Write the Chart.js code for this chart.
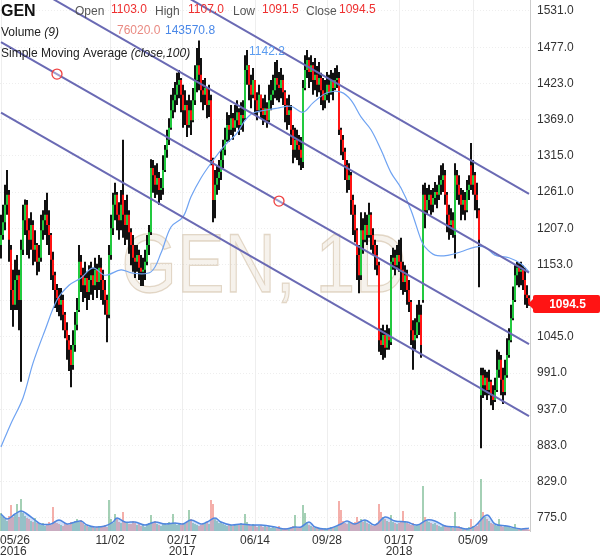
<!DOCTYPE html>
<html>
<head>
<meta charset="utf-8">
<script src="https://cdn.jsdelivr.net/npm/chart.js@4.4.1/dist/chart.umd.min.js"></script>
<style>
  html, body { margin: 0; padding: 0; background: #fff; }
  canvas { display: block; }
</style>
</head>
<body>
<canvas id="myChart" width="600" height="558"></canvas>
<script>
// GEN daily, one bar here = two sessions
const symbol = 'GEN';
const interval = '1D';

const opens = [
1182,1197,1216,1242,1257,1175,1115,1093,1130,1137,
1100,1175,1219,1242,1204,1190,1212,1175,1182,1157,
1163,1204,1219,1227,1212,1197,1160,1137,1115,1103,
1093,1100,1078,1055,1040,1026,1003,1033,1063,1085,
1157,1137,1122,1133,1112,1130,1137,1122,1145,1127,
1148,1130,1115,1100,1078,1167,1207,1242,1257,1227,
1219,1257,1227,1212,1227,1201,1182,1163,1157,1167,
1148,1142,1145,1157,1182,1201,1297,1286,1272,1282,
1264,1267,1294,1324,1339,1357,1383,1398,1406,1421,
1428,1406,1383,1391,1361,1383,1368,1398,1428,1450,
1436,1413,1406,1416,1391,1398,1309,1249,1272,1282,
1291,1309,1324,1339,1361,1354,1371,1357,1368,1380,
1361,1376,1371,1443,1450,1421,1406,1428,1398,1383,
1406,1386,1376,1386,1368,1398,1406,1413,1431,1421,
1416,1428,1410,1391,1376,1383,1354,1324,1339,1331,
1324,1306,1416,1443,1458,1440,1450,1428,1436,1421,
1431,1413,1398,1406,1421,1410,1428,1416,1428,1431,
1354,1339,1321,1301,1279,1286,1249,1227,1204,1167,
1137,1204,1190,1212,1197,1227,1197,1182,1167,1152,
1040,1033,1048,1029,1048,1037,1157,1163,1152,1167,
1157,1145,1127,1137,1115,1097,1055,1040,1048,1067,
1078,1100,1257,1234,1249,1257,1242,1252,1261,1257,
1272,1279,1286,1257,1227,1212,1219,1197,1286,1272,
1257,1242,1249,1234,1264,1301,1272,1286,1257,1234,
958,988,973,984,966,978,958,951,966,996,
1011,981,963,988,1018,1040,1073,1100,1137,1148,
1142,1145,1130,1108,1103];

const highs = [
1227,1242,1272,1294,1264,1182,1145,1160,1167,1145,
1190,1242,1250,1249,1222,1231,1219,1204,1185,1182,
1227,1234,1249,1260,1234,1200,1172,1142,1124,1118,
1118,1108,1082,1067,1048,1033,1055,1082,1103,1182,
1167,1148,1157,1142,1152,1157,1148,1163,1154,1167,
1163,1145,1130,1108,1182,1227,1260,1275,1261,1246,
1264,1339,1249,1257,1234,1207,1197,1182,1182,1175,
1167,1163,1175,1197,1212,1310,1309,1301,1304,1291,
1282,1316,1331,1354,1371,1406,1416,1425,1439,1443,
1431,1421,1413,1398,1406,1398,1416,1450,1476,1487,
1461,1428,1431,1416,1421,1406,1312,1294,1301,1309,
1324,1339,1357,1380,1376,1391,1379,1391,1398,1386,
1395,1398,1465,1473,1450,1436,1446,1428,1410,1421,
1406,1401,1406,1395,1421,1428,1436,1455,1458,1440,
1446,1436,1413,1401,1406,1391,1361,1357,1354,1346,
1343,1428,1465,1473,1462,1465,1455,1461,1449,1455,
1439,1431,1428,1440,1436,1443,1439,1446,1450,1440,
1357,1346,1327,1309,1304,1291,1257,1242,1207,1182,
1231,1222,1231,1227,1245,1231,1207,1190,1182,1157,
1058,1063,1055,1063,1058,1167,1178,1175,1182,1190,
1193,1157,1152,1145,1130,1100,1070,1073,1093,1100,
1093,1272,1275,1267,1272,1264,1267,1276,1272,1286,
1301,1304,1294,1261,1242,1237,1231,1304,1294,1286,
1267,1264,1261,1279,1286,1334,1309,1291,1275,1237,
999,999,996,993,996,981,973,984,1026,1023,
1018,999,1011,1043,1058,1093,1120,1152,1157,1155,
1157,1152,1148,1122,1107];

const lows = [
1162,1190,1204,1227,1157,1085,1060,1085,1085,1055,
978,1167,1197,1167,1162,1175,1152,1157,1137,1142,
1157,1190,1197,1182,1167,1130,1115,1088,1082,1076,
1070,1055,1043,1011,994,970,996,1023,1055,1082,
1112,1097,1103,1085,1100,1108,1100,1115,1103,1115,
1100,1093,1078,1037,1073,1160,1197,1219,1204,1190,
1204,1193,1182,1190,1169,1152,1142,1133,1142,1130,
1121,1121,1130,1152,1167,1197,1260,1252,1257,1242,
1249,1257,1291,1312,1331,1354,1371,1380,1391,1401,
1380,1357,1361,1343,1357,1346,1365,1391,1410,1413,
1395,1383,1391,1371,1373,1301,1216,1222,1257,1264,
1279,1297,1316,1336,1336,1346,1339,1351,1357,1346,
1354,1351,1368,1421,1398,1386,1401,1376,1368,1380,
1371,1361,1365,1357,1365,1383,1391,1401,1398,1395,
1401,1391,1365,1354,1361,1331,1304,1312,1309,1301,
1294,1297,1413,1431,1416,1425,1406,1413,1403,1410,
1391,1383,1386,1398,1394,1406,1398,1413,1416,1346,
1316,1309,1279,1260,1264,1227,1197,1186,1130,1110,
1130,1169,1186,1182,1193,1175,1167,1145,1137,1023,
1018,1011,1014,1026,1026,1033,1145,1137,1148,1142,
1115,1108,1112,1093,1082,1033,996,1026,1043,1048,
1014,1096,1207,1227,1234,1227,1231,1242,1237,1249,
1257,1261,1242,1201,1190,1197,1193,1162,1249,1242,
1219,1227,1219,1231,1249,1264,1257,1234,1222,1119,
879,954,958,951,958,943,936,948,963,984,
958,945,958,984,1014,1037,1070,1097,1122,1119,
1122,1115,1093,1088,1091.5];

const closes = [
1197,1216,1242,1257,1190,1115,1093,1130,1137,1100,
1175,1219,1242,1204,1190,1212,1175,1182,1157,1163,
1204,1219,1227,1212,1197,1160,1137,1115,1103,1093,
1100,1078,1055,1040,1026,1003,1033,1063,1085,1157,
1137,1122,1133,1112,1130,1137,1122,1145,1127,1148,
1130,1115,1100,1078,1167,1207,1242,1257,1227,1219,
1242,1227,1212,1227,1201,1182,1163,1157,1167,1148,
1142,1145,1157,1182,1201,1297,1286,1272,1282,1264,
1267,1294,1324,1339,1357,1383,1398,1406,1421,1428,
1406,1383,1391,1361,1383,1368,1398,1428,1450,1436,
1413,1406,1416,1391,1398,1309,1249,1272,1282,1291,
1309,1324,1339,1361,1354,1371,1357,1368,1380,1361,
1376,1371,1443,1450,1421,1406,1428,1398,1383,1406,
1386,1376,1386,1368,1398,1406,1413,1431,1421,1416,
1428,1410,1391,1376,1383,1354,1324,1339,1331,1324,
1312,1416,1443,1458,1440,1450,1428,1436,1421,1431,
1413,1398,1406,1421,1410,1428,1416,1428,1431,1354,
1339,1321,1301,1279,1286,1249,1227,1204,1167,1137,
1204,1190,1212,1197,1227,1197,1182,1167,1152,1040,
1033,1048,1029,1048,1040,1157,1163,1152,1167,1157,
1145,1127,1137,1115,1097,1055,1040,1048,1067,1078,
1033,1257,1234,1249,1257,1242,1252,1261,1257,1272,
1279,1286,1257,1227,1212,1219,1207,1286,1272,1257,
1242,1249,1234,1264,1272,1272,1286,1257,1249,1190,
988,973,984,966,978,958,951,966,996,1011,
981,963,988,1018,1040,1073,1100,1137,1148,1142,
1145,1130,1108,1103,1094.5];

const volumes = [
900000,700000,600000,500000,750000,1300000,700000,800000,1350000,700000,
1600000,900000,750000,650000,600000,500000,450000,650000,400000,350000,
300000,400000,250000,350000,450000,300000,1200000,500000,400000,350000,
300000,250000,400000,350000,300000,450000,400000,500000,600000,450000,
550000,400000,300000,250000,200000,250000,200000,150000,200000,250000,
200000,250000,300000,200000,1550000,600000,400000,850000,600000,450000,
400000,950000,450000,400000,350000,350000,500000,400000,300000,350000,
250000,300000,200000,300000,400000,800000,450000,500000,350000,300000,
250000,350000,400000,300000,450000,350000,850000,400000,300000,350000,
300000,400000,350000,450000,1050000,600000,400000,350000,300000,250000,
300000,350000,400000,450000,350000,1550000,1350000,600000,500000,400000,
450000,350000,300000,250000,350000,300000,250000,300000,350000,300000,
400000,350000,850000,450000,300000,250000,350000,300000,200000,250000,
300000,200000,250000,200000,250000,150000,200000,150000,200000,250000,
150000,100000,150000,100000,150000,200000,250000,800000,200000,150000,
200000,1300000,900000,450000,300000,250000,200000,150000,200000,150000,
150000,100000,150000,100000,150000,200000,150000,200000,250000,1500000,
1050000,500000,400000,350000,450000,400000,350000,450000,700000,500000,
600000,450000,550000,400000,350000,300000,250000,300000,400000,1350000,
950000,700000,600000,500000,450000,800000,450000,400000,350000,400000,
450000,1000000,500000,400000,350000,300000,400000,250000,300000,350000,
400000,2250000,700000,500000,450000,400000,350000,400000,300000,250000,
200000,250000,300000,200000,250000,200000,150000,950000,200000,250000,
200000,150000,100000,150000,200000,600000,250000,200000,250000,400000,
2600000,950000,700000,600000,500000,400000,350000,300000,250000,600000,
250000,200000,300000,250000,200000,150000,200000,350000,100000,150000,
100000,150000,100000,150000,76020];

// Simple Moving Average (close,100)
const smaIdx = [0,5,11,16,22,28,34,40,46,52,60,66,75,80,85,91,95,100,105,112,
  118,122,126,132,138,145,151,156,163,170,175,180,185,190,195,200,205,210,212,217,
  224,230,237,242,247,254,260,264];
const smaVal = [881,916,954,1006,1055,1100,1122,1133,1148,1137,1145,1140,1142,1170,1209,1224,1254,1282,1304,1331,
  1349,1368,1379,1383,1386,1389,1380,1394,1409,1410,1398,1373,1354,1324,1290,1267,1234,1190,1179,1167,
  1167,1172,1179,1179,1167,1163,1154,1142.2];

// Volume (9) average
const volSmaIdx = [0,3,7,10,13,17,20,25,29,33,37,40,43,47,52,56,58,62,67,72,
  77,82,87,91,95,100,103,107,110,115,120,125,130,137,142,147,150,154,157,163,
  170,173,177,182,187,192,197,203,208,213,217,222,228,233,237,243,247,253,260,264];
const volSmaVal = [850000,600000,850000,1000000,850000,550000,350000,350000,550000,350000,
  450000,500000,300000,200000,250000,450000,650000,450000,450000,300000,
  450000,350000,400000,350000,550000,350000,450000,650000,450000,300000,
  350000,300000,300000,200000,100000,200000,200000,450000,200000,100000,
  350000,500000,350000,550000,300000,700000,500000,450000,300000,550000,
  500000,250000,200000,100000,250000,800000,350000,250000,100000,143570.8];

// drawn channel: four parallel lines, value at first and last bar
const channelIdx = [0, 264];
const chanUpper = [1711.1, 1258.4];
const chanMid = [1593.5, 1140.8];
const chanLow = [1484.6, 1034.4];
const chanBottom = [1379.5, 926.8];
const anchorIdx = [28, 139];
const anchorVal = [1436.9, 1247.6];

const priceTicks = [775, 829, 883, 937, 991, 1045, 1099, 1153, 1207, 1261, 1315, 1369, 1423, 1477, 1531];
const dateIdx = [0, 54.5, 90.5, 127, 163, 199, 236];
const dateLabels = ['05/26', '11/02', '02/17', '06/14', '09/28', '01/17', '05/09'];
const yearLabels = ['2016', '', '2017', '', '', '2018', ''];

const FONT = '"Liberation Sans", Arial, sans-serif';
const GREEN = '#22c93f';
const RED = '#ff1414';
const last = closes.length - 1;

function chanLine(vals) {
  return {
    type: 'line',
    data: channelIdx.map((x, i) => ({ x: x, y: vals[i] })),
    borderColor: '#6a6ab4',
    borderWidth: 2,
    pointRadius: 0,
    clip: 0,
    order: 1
  };
}

function put(ctx, s, x, y, color, font) {
  ctx.font = font;
  ctx.fillStyle = color;
  ctx.fillText(s, x, y);
  return x + ctx.measureText(s).width;
}

const overlay = {
  id: 'overlay',
  beforeDatasetsDraw(chart) {
    const ctx = chart.ctx;
    const a = chart.chartArea;
    ctx.save();
    ctx.beginPath();
    ctx.rect(a.left, a.top, a.right - a.left, a.bottom - a.top);
    ctx.clip();
    const t = symbol + ', ' + interval;
    ctx.font = '84px ' + FONT;
    const w = ctx.measureText(t).width;
    ctx.translate(264, 292);
    ctx.scale(285 / w, 1);
    ctx.textAlign = 'center';
    ctx.fillStyle = 'rgba(215,196,168,0.22)';
    ctx.fillText(t, 0, 0);
    ctx.strokeStyle = 'rgba(205,186,158,0.55)';
    ctx.lineWidth = 1.3;
    ctx.strokeText(t, 0, 0);
    ctx.restore();
  },
  afterDraw(chart) {
    const ctx = chart.ctx;
    const xs = chart.scales.x;
    const ys = chart.scales.y;
    const a = chart.chartArea;
    ctx.save();
    ctx.textBaseline = 'middle';
    ctx.textAlign = 'left';
    ctx.fillStyle = '#333';
    ctx.font = '12px ' + FONT;
    priceTicks.forEach(v => ctx.fillText(v.toFixed(1), a.right + 7, ys.getPixelForValue(v)));

    ctx.textBaseline = 'alphabetic';
    dateIdx.forEach((d, i) => {
      const px = xs.getPixelForValue(d);
      [dateLabels[i], yearLabels[i]].forEach((s, k) => {
        if (!s) return;
        const w = ctx.measureText(s).width;
        ctx.fillText(s, Math.max(0, px - w / 2), 544 + k * 11);
      });
    });

    // header
    const lab = '#555';
    const val = '#ee3030';
    const f = '12px ' + FONT;
    put(ctx, symbol, 1, 16, '#111', 'bold 16px ' + FONT);
    put(ctx, 'Open', 75, 15, lab, f);
    put(ctx, opens[last].toFixed(1), 111, 13, val, f);
    put(ctx, 'High', 155, 15, lab, f);
    put(ctx, highs[last].toFixed(1), 188, 13, val, f);
    put(ctx, 'Low', 233, 15, lab, f);
    put(ctx, lows[last].toFixed(1), 262, 13, val, f);
    put(ctx, 'Close', 306, 15, lab, f);
    put(ctx, closes[last].toFixed(1), 339, 13, val, f);

    let x = put(ctx, 'Volume ', 1, 36, '#222', f);
    put(ctx, '(9)', x, 36, '#222', 'italic ' + f);
    put(ctx, volumes[last].toFixed(1), 117, 34, '#e98a82', f);
    put(ctx, volSmaVal[volSmaVal.length - 1].toFixed(1), 165, 34, '#4a88e8', f);

    x = put(ctx, 'Simple Moving Average ', 1, 57, '#222', f);
    put(ctx, '(close,100)', x, 57, '#222', 'italic ' + f);
    put(ctx, smaVal[smaVal.length - 1].toFixed(1), 249, 55, '#5b9cf0', f);

    // last price marker
    const py = Math.round(ys.getPixelForValue(closes[last]));
    const bx = a.right + 3;
    ctx.fillStyle = RED;
    ctx.beginPath();
    ctx.moveTo(a.right - 2, py);
    ctx.lineTo(bx + 1, py - 6);
    ctx.lineTo(bx + 1, py + 6);
    ctx.closePath();
    ctx.fill();
    ctx.beginPath();
    ctx.roundRect(bx, py - 9, chart.width - bx, 18, 2);
    ctx.fill();
    ctx.fillStyle = '#fff';
    ctx.font = 'bold 12px ' + FONT;
    ctx.textAlign = 'center';
    ctx.textBaseline = 'middle';
    ctx.fillText(closes[last].toFixed(1), (bx + chart.width) / 2 + 1, py + 1);
    ctx.restore();
  }
};

const ctx = document.getElementById('myChart').getContext('2d');
const myChart = new Chart(ctx, {
  type: 'bar',
  data: {
    datasets: [
      {
        type: 'line',
        data: anchorIdx.map((x, i) => ({ x: x, y: anchorVal[i] })),
        showLine: false,
        pointRadius: 5,
        pointBorderColor: '#ef4040',
        pointBorderWidth: 1.3,
        pointBackgroundColor: 'rgba(255,255,255,0.35)',
        order: 0
      },
      chanLine(chanUpper),
      chanLine(chanMid),
      chanLine(chanLow),
      chanLine(chanBottom),
      {
        type: 'line',
        data: smaIdx.map((x, i) => ({ x: x, y: smaVal[i] })),
        borderColor: '#6fa3f2',
        borderWidth: 1.2,
        pointRadius: 0,
        tension: 0.35,
        order: 2
      },
      {
        data: opens.map((o, i) => ({ x: i, y: [o, closes[i]] })),
        backgroundColor: opens.map((o, i) => closes[i] >= o ? GREEN : RED),
        barThickness: 2,
        grouped: false,
        inflateAmount: 0,
        borderWidth: 0,
        order: 3
      },
      {
        data: lows.map((l, i) => ({ x: i, y: [l, highs[i]] })),
        backgroundColor: '#111',
        barThickness: 2,
        grouped: false,
        inflateAmount: 0,
        borderWidth: 0,
        order: 4
      },
      {
        type: 'line',
        yAxisID: 'yv',
        data: volSmaIdx.map((x, i) => ({ x: x, y: volSmaVal[i] })),
        borderColor: '#4f86e0',
        borderWidth: 1.5,
        backgroundColor: 'rgba(120,165,235,0.35)',
        fill: 'origin',
        pointRadius: 0,
        tension: 0.4,
        order: 5
      },
      {
        yAxisID: 'yv',
        data: volumes.map((v, i) => ({ x: i, y: v })),
        backgroundColor: opens.map((o, i) => closes[i] >= o ? 'rgba(90,170,120,0.55)' : 'rgba(235,110,100,0.55)'),
        barThickness: 2,
        grouped: false,
        inflateAmount: 0,
        borderWidth: 0,
        order: 6
      }
    ]
  },
  options: {
    responsive: false,
    devicePixelRatio: 1,
    animation: false,
    events: [],
    layout: { padding: 0, autoPadding: false },
    plugins: { legend: { display: false }, tooltip: { enabled: false } },
    scales: {
      x: {
        type: 'linear',
        min: -0.5,
        max: closes.length - 0.5,
        offset: false,
        afterBuildTicks: s => { s.ticks = dateIdx.map(v => ({ value: v })); },
        afterFit: s => { s.height = 27; },
        ticks: { display: false },
        grid: { offset: false, color: '#eeeeee', drawTicks: false },
        border: { display: false }
      },
      y: {
        position: 'right',
        min: 755.6,
        max: 1547.4,
        afterBuildTicks: s => { s.ticks = priceTicks.map(v => ({ value: v })); },
        afterFit: s => { s.width = 70; },
        ticks: { display: false },
        grid: { color: '#eeeeee', drawTicks: false },
        border: { display: true, color: '#cccccc', dash: [1, 2] }
      },
      yv: {
        display: false,
        min: 0,
        max: 26550000
      }
    }
  },
  plugins: [overlay]
});
</script>
</body>
</html>
